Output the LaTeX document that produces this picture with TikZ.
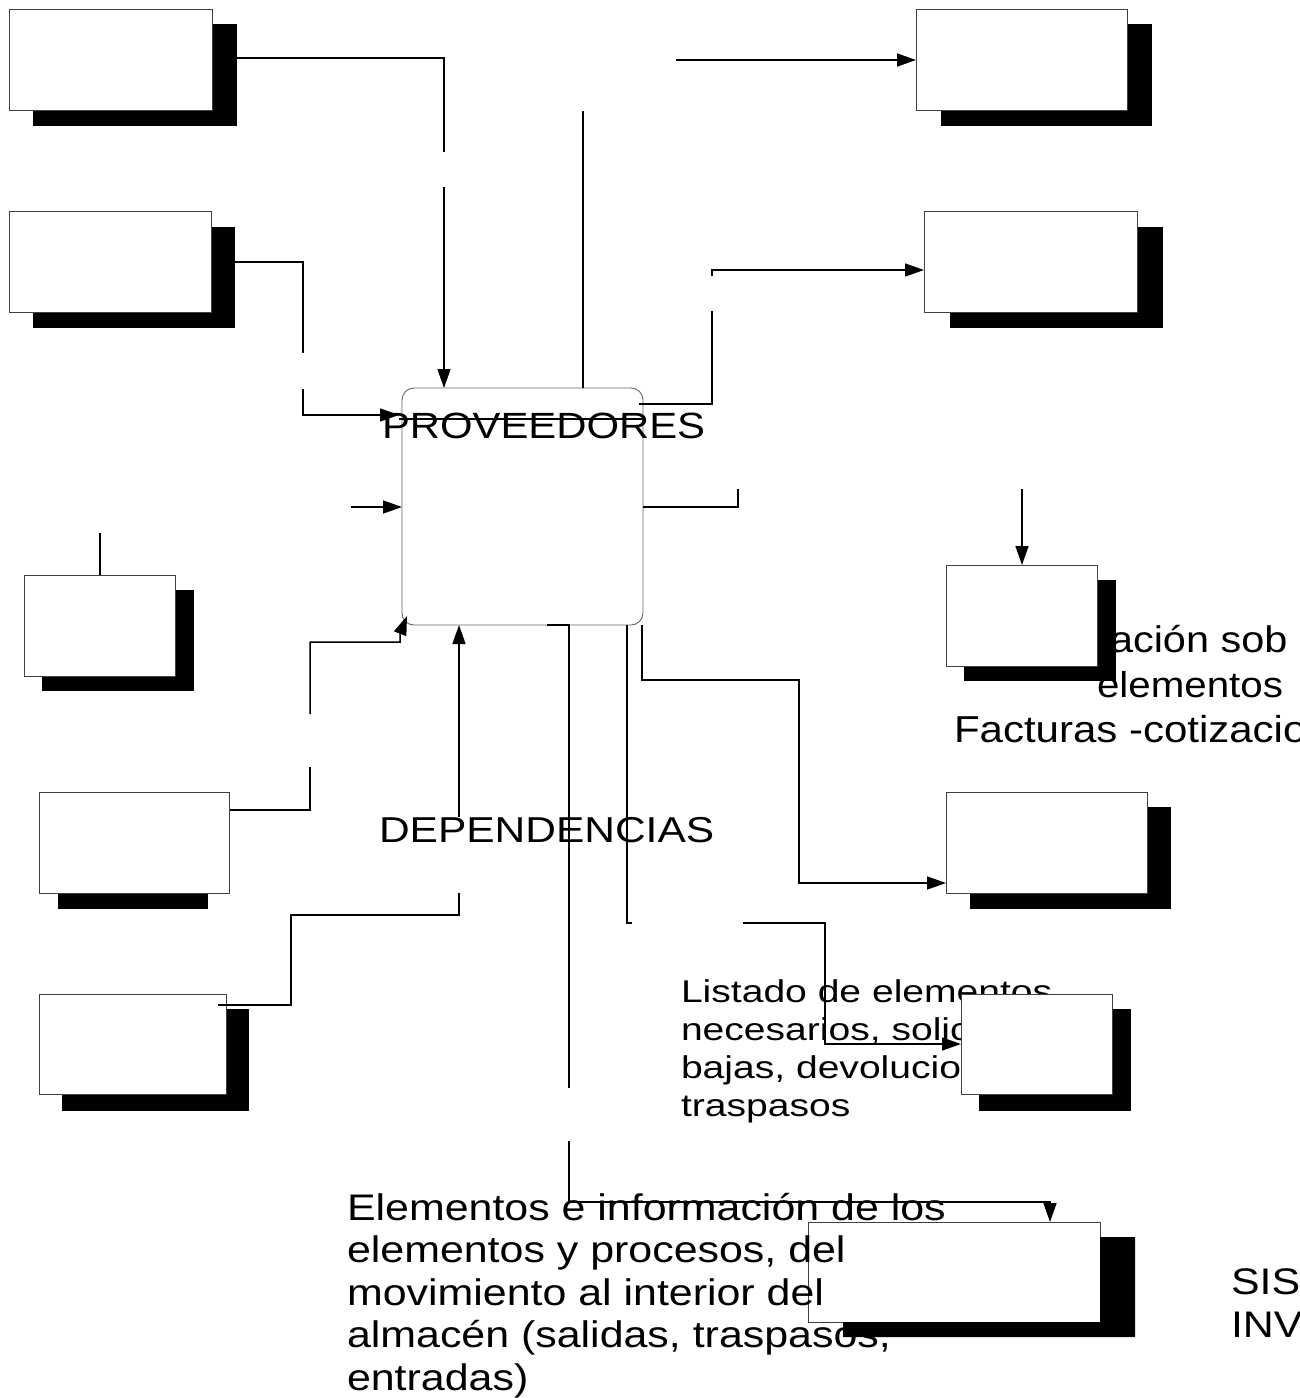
\documentclass[tikz,border=0pt]{standalone}
\usepackage{fontspec}
\setmainfont{Liberation Sans}
\newfontfamily\fA[FakeStretch=1.146]{Liberation Sans}
\newfontfamily\fAA[FakeStretch=1.18]{Liberation Sans}
\newfontfamily\fB[FakeStretch=1.16]{Liberation Sans}
\newfontfamily\fC[FakeStretch=1.24]{Liberation Sans}
\newfontfamily\fD[FakeStretch=1.12]{Liberation Sans}
\usetikzlibrary{arrows.meta,fit}
\tikzset{
  wbox/.style={draw=black!75, line width=0.9pt, fill=white, inner sep=0pt, outer sep=0pt},
  shad/.style={fill=black},
  conn/.style={line width=1.5pt, draw=black},
  arr/.style={conn, -{Triangle[length=19pt,width=13pt]}},
  txt/.style={inner sep=0pt, outer sep=0pt, anchor=base west},
}
\newcommand\mkbox[9]{\fill[shad] (#6,#7) rectangle (#8,#9); \node[wbox, fit={(#2,#3) (#4,#5)}] (#1) {};}
\begin{document}
\begin{tikzpicture}[x=1pt,y=-1pt]
\useasboundingbox[fill=white] (0,0) rectangle (1299,1398);

% texts lying behind boxes
\node[txt] (inf1) at (1110,652) {\fD\fontsize{37}{45}\selectfont ación sob};
\node[txt] (inf2) at (1097,697) {\fD\fontsize{36}{45}\selectfont elementos};
\node[txt] (inf3) at (954,742) {\fD\fontsize{37.5}{45}\selectfont Facturas -cotizacio};
\node[txt] (lst) at (681,1002) {\fC\fontsize{31.5}{38}\selectfont\begin{tabular}[t]{@{}l@{}}Listado de elementos\\ necesarios, solic\\ bajas, devolucion\\ traspasos\end{tabular}};

% boxes with shadows
\mkbox{B1}{9}{9}{212}{110}{33}{24}{237}{126}
\mkbox{B2}{9}{211}{211}{312}{33}{227}{235}{328}
\mkbox{B3}{24}{575}{175}{676}{42}{590}{194}{691}
\mkbox{B4}{39}{792}{229}{893}{58}{807}{208}{909}
\mkbox{B5}{39}{994}{226}{1094}{62}{1009}{249}{1111}
\mkbox{T1}{916}{9}{1127}{110}{941}{24}{1152}{126}
\mkbox{T2}{924}{211}{1137}{312}{950}{227}{1163}{328}
\mkbox{R3}{946}{565}{1097}{666}{964}{580}{1116}{681}
\mkbox{R4}{946}{792}{1147}{893}{970}{807}{1171}{909}
\mkbox{R5}{961}{994}{1112}{1094}{979}{1009}{1131}{1111}

% central box
\node[draw=black!60, line width=0.9pt, rounded corners=12pt, inner sep=0pt, outer sep=0pt, fit={(402,388) (643,625)}] (C) {};

% bottom box, its text on top, then its shadow
\node[wbox, fit={(808,1222) (1100,1322)}] (R6) {};
\node[txt] (elem) at (347,1220) {\fB\fontsize{37}{42.5}\selectfont\begin{tabular}[t]{@{}l@{}}Elementos e información de los\\ elementos y procesos, del\\ movimiento al interior del\\ almacén (salidas, traspasos,\\ entradas)\end{tabular}};
\fill[shad] (1100,1237) -- (1135,1237) -- (1135,1337) -- (843,1337) -- (843,1322) -- (1100,1322) -- cycle;

% labels
\node[txt] (prov) at (382,438) {\fA\fontsize{36.5}{42}\selectfont PROVEEDORES};
\node[txt] (dep) at (379,842) {\fAA\fontsize{36}{42}\selectfont DEPENDENCIAS};
\node[txt] (sis) at (1231,1294) {\fB\fontsize{37}{43}\selectfont\begin{tabular}[t]{@{}l@{}}SIS\\ INV\end{tabular}};

% connectors
\coordinate (c1a) at (237,58); \coordinate (c1b) at (444,152); \coordinate (c1c) at (444,187);
\draw[conn] (c1a) -| (c1b);
\draw[arr] (c1c) -- (c1c |- C.north);

\coordinate (c2a) at (235,262); \coordinate (c2b) at (303,353);
\coordinate (c2c) at (303,389); \coordinate (c2d) at (399,415); \coordinate (c2e) at (399,419);
\draw[conn] (c2a) -| (c2b);
\draw[arr] (c2c) |- (c2d);
\draw[conn] (c2e) -- (c2e -| C.east);

\coordinate (c3) at (583,111);
\draw[conn] (c3) -- (c3 |- C.north);

\coordinate (c4) at (676,60);
\draw[arr] (c4) -- (c4 -| T1.west);

\coordinate (c5a) at (639,404); \coordinate (c5b) at (712,311);
\coordinate (c5c) at (712,276); \coordinate (c5d) at (712,270);
\draw[conn] (c5a) -| (c5b);
\draw[arr] (c5c) -- (c5d) -- (c5d -| T2.west);

\coordinate (c6) at (351,507);
\draw[arr] (c6) -- (c6 -| C.west);

\coordinate (c7a) at (643,507); \coordinate (c7b) at (738,489);
\draw[conn] (c7a) -| (c7b);

\coordinate (c8) at (1022,489);
\draw[arr] (c8) -- (c8 |- R3.north);

\coordinate (c9) at (100,533);
\draw[conn] (c9) -- (c9 |- B3.north);

\coordinate (c10a) at (230,810); \coordinate (c10b) at (310,767);
\coordinate (c10c) at (310,714); \coordinate (c10m) at (400,642);
\coordinate (c10d) at (400,634); \coordinate (c10e) at (407,616);
\draw[conn] (c10a) -| (c10b);
\draw[arr] (c10c) |- (c10m) -- (c10d) -- (c10e);

\coordinate (c11) at (459,817);
\draw[arr] (c11) -- (c11 |- C.south);

\coordinate (c12a) at (459,893); \coordinate (c12b) at (291,915); \coordinate (c12c) at (218,1005);
\draw[conn] (c12a) |- (c12b) |- (c12c);

\coordinate (c14) at (547,625); \coordinate (c13a) at (569,625); \coordinate (c13b) at (569,1088);
\coordinate (c13c) at (569,1141); \coordinate (c13d) at (1050,1202);
\draw[conn] (c14) -- (c13a) -- (c13b);
\draw[arr] (c13c) |- (c13d) -- (c13d |- R6.north);

\coordinate (c15a) at (627,625); \coordinate (c15b) at (632,923);
\draw[conn] (c15a) |- (c15b);

\coordinate (c16a) at (642,625); \coordinate (c16b) at (799,680); \coordinate (c16c) at (799,883);
\draw[arr] (c16a) |- (c16b) -- (c16c) -- (c16c -| R4.west);

\coordinate (c17a) at (743,923); \coordinate (c17b) at (825,1044);
\draw[arr] (c17a) -| (c17b) -- (c17b -| R5.west);
\end{tikzpicture}
\end{document}
